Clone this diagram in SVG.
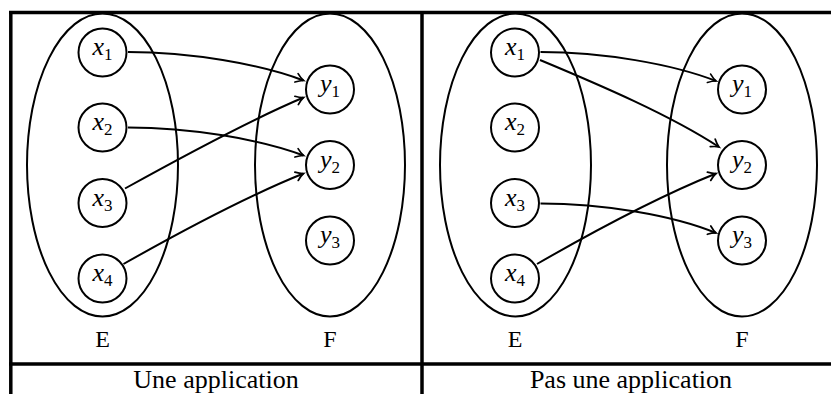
<svg xmlns="http://www.w3.org/2000/svg" width="831" height="394" viewBox="0 0 831 394">
<style>
.frame{stroke:#000;stroke-width:3.5;fill:none}
.set{fill:none;stroke:#000;stroke-width:2}
.node circle{fill:#fff;stroke:#000;stroke-width:2}
.lbl{font-family:'Liberation Serif','Times New Roman','DejaVu Serif',serif;font-style:italic;font-size:26px;text-anchor:middle;fill:#000}
.sub{font-style:normal;font-size:17px}
.setlbl{font-family:'Liberation Serif','Times New Roman','DejaVu Serif',serif;font-size:24px;text-anchor:middle;fill:#000}
.cap{font-family:'Liberation Serif','Times New Roman','DejaVu Serif',serif;font-size:26px;text-anchor:middle;fill:#000}
.edge{fill:none;stroke:#000;stroke-width:2;marker-end:url(#arr)}
</style>
<defs>
<marker id="arr" markerUnits="userSpaceOnUse" markerWidth="14" markerHeight="14" viewBox="-10 -7 14 14" refX="0" refY="0" orient="auto">
<path d="M-7.5,-4.5 Q-3,-1 0,0 Q-3,1 -7.5,4.5" fill="none" stroke="#000" stroke-width="1.7" stroke-linecap="round"/>
</marker>
</defs>
<rect width="831" height="394" fill="#fff"/>
<g id="table">
<line class="frame" x1="9" y1="12.5" x2="831" y2="12.5"/>
<line class="frame" x1="10.8" y1="11" x2="10.8" y2="394"/>
<line class="frame" x1="422" y1="11" x2="422" y2="394"/>
<line class="frame" x1="9" y1="364" x2="831" y2="364"/>
</g>
<g id="sets">
<ellipse id="E1" class="set" cx="102.5" cy="165" rx="75.5" ry="151.5"/>
<ellipse id="F1" class="set" cx="330" cy="165" rx="75" ry="151.5"/>
<ellipse id="E2" class="set" cx="515.5" cy="165" rx="75.5" ry="151.5"/>
<ellipse id="F2" class="set" cx="742" cy="165" rx="75" ry="151.5"/>
<text class="setlbl" x="102.5" y="346.5">E</text>
<text class="setlbl" x="330" y="346.5">F</text>
<text class="setlbl" x="515" y="346.5">E</text>
<text class="setlbl" x="742" y="346.5">F</text>
</g>
<g id="connectors">
<path class="edge" d="M128,52 C190,52 260,64 303.5,80.5"/>
<path class="edge" d="M128,127.5 C190,127.5 260,139 303.5,155.5"/>
<path class="edge" d="M125,188.5 C180,158 250,120 303.5,97.5"/>
<path class="edge" d="M123.5,264 C180,232 250,195 303.5,173.5"/>
<path class="edge" d="M540.5,52 C602.5,52 672.5,64 716,81"/>
<path class="edge" d="M540,60 C600,85 670,115 719,147"/>
<path class="edge" d="M540.5,203.5 C602.5,203.5 672.5,215 716,233"/>
<path class="edge" d="M537,264 C592.5,232 662.5,195 716,173.5"/>
</g>
<g id="x1a" class="node"><circle cx="102.5" cy="52.5" r="24"/><text class="lbl" x="102.5" y="55">x<tspan class="sub" dy="5">1</tspan></text></g>
<g id="x2a" class="node"><circle cx="102.5" cy="127.5" r="24"/><text class="lbl" x="102.5" y="130">x<tspan class="sub" dy="5">2</tspan></text></g>
<g id="x3a" class="node"><circle cx="102.5" cy="203" r="24"/><text class="lbl" x="102.5" y="205.5">x<tspan class="sub" dy="5">3</tspan></text></g>
<g id="x4a" class="node"><circle cx="102.5" cy="278.5" r="24"/><text class="lbl" x="102.5" y="281">x<tspan class="sub" dy="5">4</tspan></text></g>
<g id="y1a" class="node"><circle cx="330" cy="89.5" r="24"/><text class="lbl" x="330" y="92">y<tspan class="sub" dy="5">1</tspan></text></g>
<g id="y2a" class="node"><circle cx="330" cy="165" r="24"/><text class="lbl" x="330" y="167.5">y<tspan class="sub" dy="5">2</tspan></text></g>
<g id="y3a" class="node"><circle cx="330" cy="240.5" r="24"/><text class="lbl" x="330" y="243">y<tspan class="sub" dy="5">3</tspan></text></g>
<g id="x1b" class="node"><circle cx="515" cy="52.5" r="24"/><text class="lbl" x="515" y="55">x<tspan class="sub" dy="5">1</tspan></text></g>
<g id="x2b" class="node"><circle cx="515" cy="127.5" r="24"/><text class="lbl" x="515" y="130">x<tspan class="sub" dy="5">2</tspan></text></g>
<g id="x3b" class="node"><circle cx="515" cy="203" r="24"/><text class="lbl" x="515" y="205.5">x<tspan class="sub" dy="5">3</tspan></text></g>
<g id="x4b" class="node"><circle cx="515" cy="278.5" r="24"/><text class="lbl" x="515" y="281">x<tspan class="sub" dy="5">4</tspan></text></g>
<g id="y1b" class="node"><circle cx="742" cy="89.5" r="24"/><text class="lbl" x="742" y="92">y<tspan class="sub" dy="5">1</tspan></text></g>
<g id="y2b" class="node"><circle cx="742" cy="165" r="24"/><text class="lbl" x="742" y="167.5">y<tspan class="sub" dy="5">2</tspan></text></g>
<g id="y3b" class="node"><circle cx="742" cy="240.5" r="24"/><text class="lbl" x="742" y="243">y<tspan class="sub" dy="5">3</tspan></text></g>
<g id="captions">
<text class="cap" x="216" y="387.5">Une application</text>
<text class="cap" x="631" y="387.5">Pas une application</text>
</g>
</svg>
